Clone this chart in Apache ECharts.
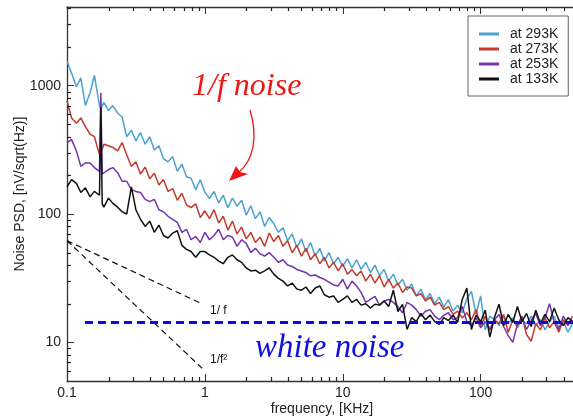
<!DOCTYPE html>
<html>
<head>
<meta charset="utf-8">
<script src="https://cdn.jsdelivr.net/npm/echarts@6/dist/echarts.min.js"></script>
<style>
  html, body { margin: 0; padding: 0; background: #fff; }
  #chart { width: 573px; height: 418px; }
</style>
</head>
<body>
<div id="chart"></div>
<script>
// frequency in KHz (log spaced, extra points round the 0.176 KHz line)
const freq = [
  0.1, 0.108, 0.117, 0.126, 0.136, 0.147, 0.158, 0.172, 0.176, 0.18, 0.185, 0.2, 0.215, 0.233, 0.251, 0.271,
  0.293, 0.316, 0.341, 0.369, 0.398, 0.43, 0.464, 0.501, 0.541, 0.584, 0.631, 0.681, 0.736, 0.794, 0.858, 0.926,
  1, 1.08, 1.166, 1.259, 1.359, 1.468, 1.585, 1.711, 1.848, 1.995, 2.154, 2.326, 2.512, 2.712, 2.929,
  3.162, 3.415, 3.687, 3.981, 4.299, 4.642, 5.012, 5.412, 5.843, 6.31, 6.813, 7.356, 7.943, 8.577, 9.261,
  10, 10.8, 11.66, 12.59, 13.59, 14.68, 15.85, 17.11, 18.48, 19.95, 21.54, 23.26, 25.12, 27.12, 29.29,
  31.62, 34.15, 36.87, 39.81, 42.99, 46.42, 50.12, 54.12, 58.43, 63.1, 68.13, 73.56, 79.43, 85.77, 92.61,
  100, 108, 116.6, 125.9, 135.9, 146.8, 158.5, 171.1, 184.8, 199.5, 215.4, 232.6, 251.2, 271.2, 292.9,
  316.2, 341.5, 368.7, 398.1, 429.9, 464.2
];

const psd293 = [
  1550, 1250, 980, 1150, 700, 880, 1200, 700, 660, 680, 740, 640, 700, 610, 570, 400,
  450, 370, 430, 350, 400, 315, 340, 270, 255, 280, 215, 245, 195, 190, 155, 185,
  148, 132, 150, 122, 140, 112, 133, 115, 128, 98, 116, 92, 104, 80, 94,
  84, 72, 78, 62, 70, 55, 64, 51, 60, 47, 54, 43, 50, 41, 46,
  39, 45, 38, 44, 37, 42, 35, 40, 33, 37, 30, 34, 28, 31, 25.5,
  28.5, 23, 26, 21.5, 24, 20, 22.5, 18.8, 21.5, 17.5, 19.5, 17, 22, 25, 16.5,
  23, 12.5, 16, 15, 13.5, 16, 14, 15.5, 13, 15, 14, 16, 13.5, 15, 12.5,
  14.5, 16, 13, 14.5, 12, 14
];

const psd273 = [
  760, 560, 510, 560, 480, 420, 400, 290, 300, 320, 350, 340, 330, 310, 360, 290,
  235, 255, 205, 232, 188, 208, 168, 186, 150, 158, 128, 145, 118, 112, 120, 94,
  106, 92, 108, 85, 96, 75, 88, 70, 79, 64, 72, 60, 66, 56, 71,
  61, 68, 56, 62, 50, 57, 47, 54, 44, 49, 41, 46, 38, 42, 36,
  41, 34, 37, 33, 36, 30, 34, 29, 33, 27, 31, 26.5, 29, 24.5, 27,
  26.5, 23, 24, 21, 22.5, 19.5, 20.5, 18, 19, 16.5, 17.5, 15.5, 17, 15, 18,
  13.5, 16, 12.5, 15, 14, 16.5, 12, 15, 13.5, 16, 11.5, 10.2, 14, 12.5, 15.5,
  13, 14.5, 12, 15, 13.5, 16
];

const psd253 = [
  360, 380, 310, 235, 250, 250, 230, 215, 880, 205, 200, 222, 230, 210, 180, 180,
  155, 150, 147, 130, 125, 130, 108, 104, 96, 91, 86, 72, 76, 63, 67, 60,
  72, 63, 68, 76, 63, 68, 66, 56, 63, 59, 50, 54, 49, 47, 50,
  46, 42, 44, 40, 39, 37, 36, 35, 33, 33.5, 32, 31, 29.5, 28, 27.5,
  31, 26, 30, 27.5, 24.5, 20.5, 21.6, 22.8, 19.5, 21, 21.6, 20.5, 19, 17, 20.5,
  19.5, 18, 16, 17.5, 18, 16, 15, 16.3, 17, 15, 15.6, 19, 14.5, 13.5, 15.6,
  13, 14.5, 12.6, 15, 16.5, 13.3, 11.3, 10, 13.8, 15.6, 12.6, 14.8, 16.8, 13.5, 15.6,
  20, 14.5, 12.6, 16, 13.8, 14.8
];

const psd133 = [
  163, 185, 173, 147, 160, 136, 150, 140, 680, 120, 113, 133, 121, 113, 104, 100,
  163, 108, 91, 80, 88, 72, 82, 68, 65, 71, 74, 57, 53, 51, 46, 51,
  51, 48, 46, 43, 41, 46, 48, 44, 42, 38, 36, 36.5, 34.5, 36, 38,
  34, 31.5, 30, 27.5, 29, 26, 25.5, 27, 24, 26.5, 27.5, 23.5, 22.5, 23, 20.5,
  21.6, 23, 20.5, 21.6, 19.5, 20, 18.5, 19.8, 19.5, 21, 19, 25.5, 17.4, 19.8, 12.6,
  15.6, 14.5, 16.8, 15, 16.3, 14.5, 13.8, 15.6, 14.8, 16.3, 14.3, 21.6, 26.5, 12.6, 16.3,
  14.5, 17.8, 11, 15.6, 19.8, 13.5, 16.5, 14.3, 19, 14.5, 16.8, 13.3, 17.8, 14, 16.5,
  14.5, 18.5, 15, 13.5, 15.6, 14.5
];

const seriesNames = ['at 293K', 'at 273K', 'at 253K', 'at 133K'];
const seriesColors = ['#4ba2d2', '#c63a2d', '#7434ae', '#111111'];
const seriesData = [psd293, psd273, psd253, psd133];

const xTicks = [0.1, 1, 10, 100];
const xTickLabels = ['0.1', '1', '10', '100'];
const yTicks = [10, 100, 1000];
const yTickLabels = ['10', '100', '1000'];
const xMinor = [0.2, 0.3, 0.4, 0.5, 0.6, 0.7, 0.8, 0.9, 2, 3, 4, 5, 6, 7, 8, 9,
  20, 30, 40, 50, 60, 70, 80, 90, 200, 300, 400];
const yMinor = [6, 7, 8, 9, 20, 30, 40, 50, 60, 70, 80, 90, 200, 300, 400, 500, 600, 700, 800, 900,
  2000, 3000, 4000];

// white noise floor and the two slope guides
const whiteNoise = [[0.135, 14.3], [500, 14.3]];
const slopeF = [[0.1, 62], [0.95, 20]];
const slopeF2 = [[0.1, 62], [1, 6]];

const chart = echarts.init(document.getElementById('chart'), null, { renderer: 'canvas' });

function tickLabel(ticks, labels) {
  return v => {
    const i = ticks.findIndex(t => Math.abs(Math.log10(v) - Math.log10(t)) < 1e-6);
    return i < 0 ? '' : labels[i];
  };
}

function minorX(params, api) {
  const cs = params.coordSys;
  const x = Math.round(api.coord([api.value(0), api.value(1)])[0]) + 0.5;
  const top = cs.y, bottom = cs.y + cs.height;
  return {
    type: 'group',
    children: [
      { type: 'line', shape: { x1: x, y1: bottom, x2: x, y2: bottom - 4 }, style: { stroke: '#222', lineWidth: 1.2 } },
      { type: 'line', shape: { x1: x, y1: top, x2: x, y2: top + 4 }, style: { stroke: '#222', lineWidth: 1.2 } }
    ]
  };
}

function minorY(params, api) {
  const cs = params.coordSys;
  const y = Math.round(api.coord([api.value(0), api.value(1)])[1]) + 0.5;
  return {
    type: 'line',
    shape: { x1: cs.x, y1: y, x2: cs.x + 4, y2: y },
    style: { stroke: '#222', lineWidth: 1.2 }
  };
}

const font = 'Liberation Sans';
const axisCommon = {
  type: 'log',
  logBase: 10,
  axisLine: { show: true, lineStyle: { color: '#333', width: 1.3 } },
  splitLine: { show: false },
  minorTick: { show: false },
  axisTick: { show: true, inside: true, length: 7, lineStyle: { color: '#333', width: 1 } }
};

const lineSeries = seriesNames.map((name, k) => ({
  name,
  type: 'line',
  data: freq.map((f, i) => [f, seriesData[k][i]]),
  showSymbol: false,
  symbol: 'none',
  color: seriesColors[k],
  lineStyle: { width: 1.5, color: seriesColors[k] },
  z: 3 + k
}));

chart.setOption({
  animation: false,
  backgroundColor: '#fff',
  textStyle: { fontFamily: font },
  grid: { left: 67, top: 7, width: 510, height: 374, containLabel: false, outerBoundsMode: 'none' },
  legend: {
    data: seriesNames,
    orient: 'vertical',
    left: 468,
    top: 16,
    padding: [11, 10, 10, 11],
    borderColor: '#666',
    borderWidth: 1,
    itemWidth: 20,
    itemHeight: 3,
    itemGap: 1,
    icon: 'rect',
    textStyle: { fontFamily: font, fontSize: 14, lineHeight: 13, color: '#222', padding: [0, 0, 0, 6] }
  },
  xAxis: [
    Object.assign({}, axisCommon, {
      min: 0.1, max: 500, position: 'bottom',
      name: 'frequency, [KHz]', nameLocation: 'middle', nameGap: 21, nameMoveOverlap: false,
      nameTextStyle: { fontFamily: font, fontSize: 14, color: '#222' },
      axisLabel: { fontFamily: font, fontSize: 14, color: '#222', margin: 5, formatter: tickLabel(xTicks, xTickLabels) }
    }),
    Object.assign({}, axisCommon, {
      min: 0.1, max: 500, position: 'top',
      axisLabel: { show: false }
    })
  ],
  yAxis: Object.assign({}, axisCommon, {
    min: 5, max: 4100,
    name: 'Noise PSD, [nV/sqrt(Hz)]', nameLocation: 'middle', nameGap: 40, nameMoveOverlap: false,
    nameTextStyle: { fontFamily: font, fontSize: 14, color: '#222' },
    axisLabel: { fontFamily: font, fontSize: 14, color: '#222', margin: 6, formatter: tickLabel(yTicks, yTickLabels) }
  }),
  series: lineSeries.concat([
    {
      name: 'white', type: 'line', data: whiteNoise, showSymbol: false, symbol: 'none', z: 10,
      lineStyle: { color: '#0a0ae6', width: 3, type: [8, 5] }
    },
    {
      name: 'slope1', type: 'line', data: slopeF, showSymbol: false, symbol: 'none', z: 9,
      lineStyle: { color: '#111', width: 1.2, type: [6, 4] }
    },
    {
      name: 'slope2', type: 'line', data: slopeF2, showSymbol: false, symbol: 'none', z: 9,
      lineStyle: { color: '#111', width: 1.2, type: [6, 4] }
    },
    { name: 'minorX', type: 'custom', renderItem: minorX, data: xMinor.map(f => [f, 5]), z: 11, silent: true, clip: false },
    { name: 'minorY', type: 'custom', renderItem: minorY, data: yMinor.map(v => [0.1, v]), z: 11, silent: true, clip: false }
  ]),
  graphic: [
    {
      type: 'text', left: 192, top: 71, z: 20,
      style: { text: '1/f noise', fill: '#f01414', font: 'italic 32px "Liberation Serif"' }
    },
    {
      type: 'bezierCurve', z: 20,
      shape: { x1: 250, y1: 110, cpx1: 258, cpy1: 137, cpx2: 254, cpy2: 160, x2: 238, y2: 173 },
      style: { stroke: '#f01414', lineWidth: 1.3, fill: null }
    },
    {
      type: 'polygon', z: 20,
      shape: { points: [[229, 181], [236, 166], [240, 172], [248, 174]] },
      style: { fill: '#f01414' }
    },
    {
      type: 'text', left: 255, top: 332, z: 20,
      style: { text: 'white noise', fill: '#1010e0', font: 'italic 33px "Liberation Serif"' }
    },
    {
      type: 'text', left: 210, top: 305, z: 20,
      style: { text: '1/ f', fill: '#111', font: '12px "Liberation Sans"' }
    },
    {
      type: 'text', left: 210, top: 354, z: 20,
      style: { text: '1/f\u00B2', fill: '#111', font: '12px "Liberation Sans"' }
    }
  ]
});
</script>
</body>
</html>
